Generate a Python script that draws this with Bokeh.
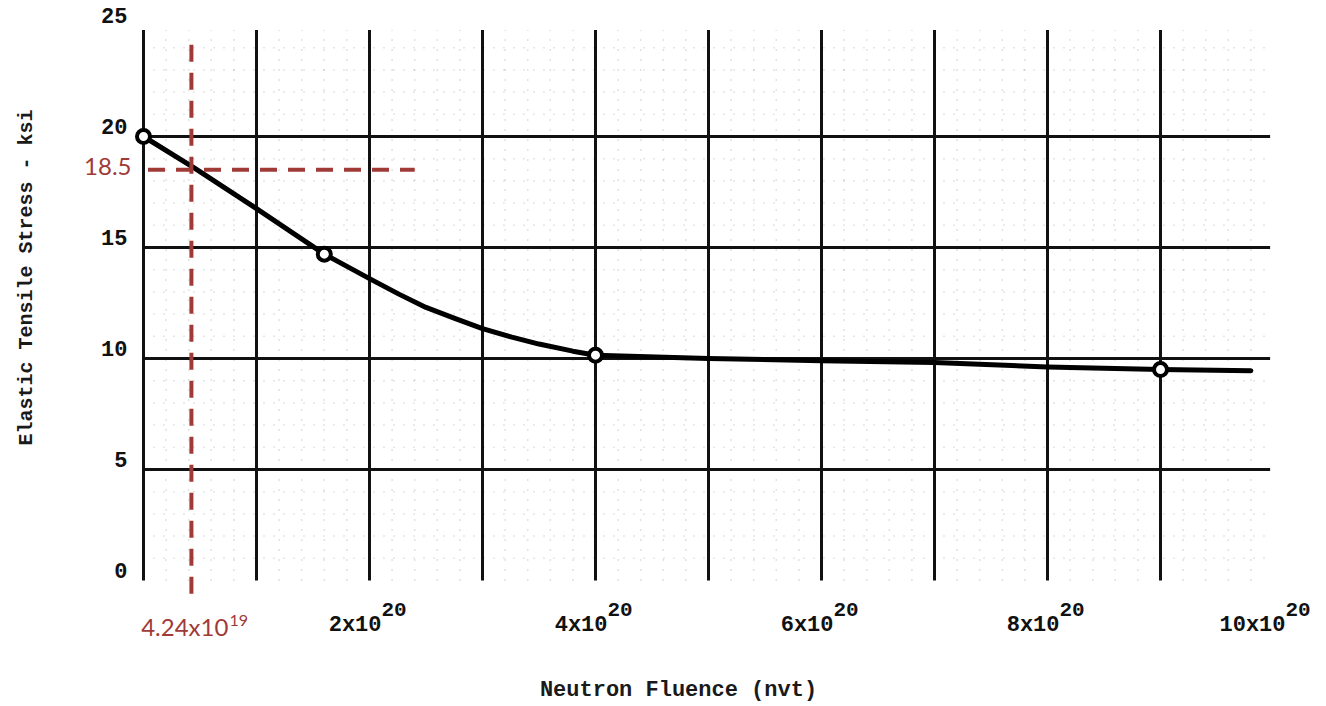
import math
from bokeh.plotting import figure
from bokeh.models import Range1d, Label
from bokeh.core.properties import value
from bokeh.embed import file_html
from bokeh.resources import INLINE

# ---------------- data (fluence in units of 1e20 nvt, stress in ksi) ----------------
curve_fluence = [0.0, 0.445, 1.0, 1.6, 2.0, 2.26, 2.5, 2.76, 3.0, 3.26, 3.5, 3.8, 4.0,
                 5.0, 6.0, 7.0, 8.0, 9.0, 9.8]
curve_stress = [20.0, 18.6, 16.75, 14.7, 13.6, 12.9, 12.3, 11.8, 11.35, 10.96, 10.65, 10.33, 10.15,
                10.0, 9.9, 9.82, 9.62, 9.5, 9.45]
point_fluence = [0.0, 1.6, 4.0, 9.0]
point_stress = [20.0, 14.7, 10.15, 9.5]

ref_fluence = [0.424]          # 4.24x10^19
ref_stress = [18.5]
ref_fluence_label = ["4.24x10"]
ref_fluence_exp = ["19"]
ref_stress_label = ["18.5"]

x_major = [0, 1, 2, 3, 4, 5, 6, 7, 8, 9]
y_major = [5, 10, 15, 20]
x_tick_values = [2, 4, 6, 8, 10]
x_tick_base = ["2x10", "4x10", "6x10", "8x10", "10x10"]
x_tick_exp = ["20", "20", "20", "20", "20"]
y_tick_values = [0, 5, 10, 15, 20, 25]
y_tick_labels = ["0", "5", "10", "15", "20", "25"]

x_title = "Neutron Fluence (nvt)"
y_title = "Elastic Tensile Stress - ksi"

# ---------------- layout ----------------
W, H = 1326, 706
X0, PX = 143.0, 113.0      # pixel of x=0, pixels per 1e20
Y0, PY = 580.0, 22.2       # pixel of y=0, pixels per ksi

p = figure(width=W, height=H, output_backend="svg", toolbar_location=None,
           x_axis_type=None, y_axis_type=None, min_border=0,
           x_range=Range1d(-X0 / PX, (W - X0) / PX),
           y_range=Range1d(-(H - Y0) / PY, Y0 / PY))
p.outline_line_color = None
p.background_fill_color = "white"
p.border_fill_color = "white"

grid_top = 24.8
grid_right = 9.97

# faint minor graph-paper texture
minor_x = [i * 0.2 for i in range(1, 50) if i % 5 != 0]
minor_y = [j for j in range(1, 25) if j % 5 != 0]
p.segment(x0=minor_x, y0=[0] * len(minor_x), x1=minor_x, y1=[grid_top] * len(minor_x),
          line_color="#555555", line_alpha=0.35, line_width=1.5, line_dash="1 9")
p.segment(x0=[0] * len(minor_y), y0=minor_y, x1=[grid_right] * len(minor_y), y1=minor_y,
          line_color="#555555", line_alpha=0.3, line_width=1.5, line_dash="1 9")

# major grid
p.segment(x0=x_major, y0=[0] * len(x_major), x1=x_major, y1=[grid_top] * len(x_major),
          line_color="#111111", line_width=3)
p.segment(x0=[0] * len(y_major), y0=y_major, x1=[grid_right] * len(y_major), y1=y_major,
          line_color="#111111", line_width=3)

# curve and points
p.line(curve_fluence, curve_stress, line_color="black", line_width=5,
       line_join="round", line_cap="round")
p.scatter(point_fluence, point_stress, marker="circle", size=13, line_width=4,
          line_color="black", fill_color="white")

# reference dashed lines
red = "#A03A37"
p.segment(x0=ref_fluence, y0=[-0.6], x1=ref_fluence, y1=[24.2],
          line_color=red, line_width=4, line_dash="17 11")
p.segment(x0=[0.04], y0=ref_stress, x1=[2.4], y1=ref_stress,
          line_color=red, line_width=4, line_dash="17 11")

# y tick labels
p.text(x=[0] * len(y_tick_values), y=y_tick_values, text=y_tick_labels,
       text_font=value("Liberation Mono"), text_font_style="bold", text_font_size="22px",
       text_color="#111111", text_align="right", text_baseline="middle",
       x_offset=-16, y_offset=-10)

# x tick labels with superscript exponent
p.text(x=x_tick_values, y=[0] * len(x_tick_values), text=x_tick_base,
       text_font=value("Liberation Mono"), text_font_style="bold", text_font_size="22px",
       text_color="#111111", text_align="right", text_baseline="middle",
       x_offset=12, y_offset=45)
p.text(x=x_tick_values, y=[0] * len(x_tick_values), text=x_tick_exp,
       text_font=value("Liberation Mono"), text_font_style="bold", text_font_size="21px",
       text_color="#111111", text_align="left", text_baseline="middle",
       x_offset=12, y_offset=29)

# red reference labels
p.text(x=[0], y=ref_stress, text=ref_stress_label,
       text_font=value("Lato"), text_font_size="24px", text_color=red,
       text_align="right", text_baseline="middle", x_offset=-12, y_offset=-3)
p.text(x=ref_fluence, y=[0], text=ref_fluence_label,
       text_font=value("Lato"), text_font_size="24px", text_color=red,
       text_align="right", text_baseline="middle", x_offset=37, y_offset=46)
p.text(x=ref_fluence, y=[0], text=ref_fluence_exp,
       text_font=value("Lato"), text_font_size="16px", text_color=red,
       text_align="left", text_baseline="middle", x_offset=38, y_offset=40)

# axis titles
p.add_layout(Label(x=678, y=H - 690, x_units="screen", y_units="screen", text=x_title,
                   text_font="Liberation Mono", text_font_style="bold", text_font_size="22px",
                   text_color="#1a1a1a", text_align="center", text_baseline="middle"))
p.add_layout(Label(x=26, y=H - 277, x_units="screen", y_units="screen", text=y_title,
                   angle=math.pi / 2, text_font="Liberation Mono", text_font_style="bold",
                   text_font_size="20px", text_color="#1a1a1a",
                   text_align="center", text_baseline="middle"))

open("out.html", "w").write(file_html(p, INLINE))
